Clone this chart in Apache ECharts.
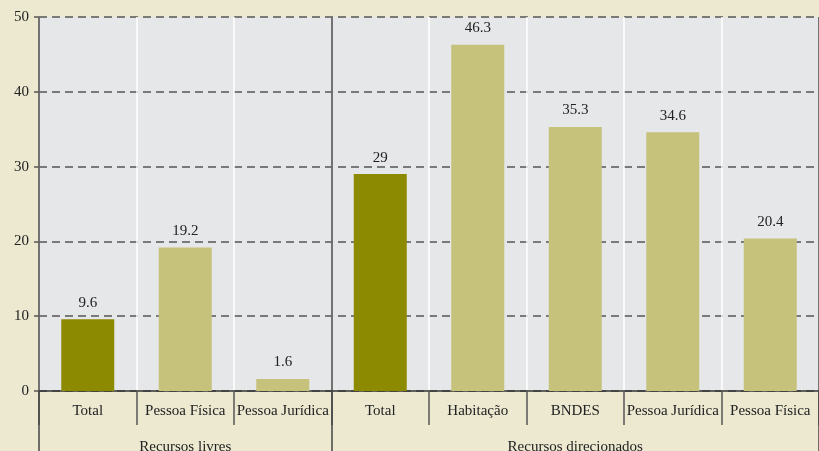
<!DOCTYPE html>
<html>
<head>
<meta charset="utf-8">
<script src="https://cdn.jsdelivr.net/npm/echarts@6/dist/echarts.min.js"></script>
<style>
  html, body { margin: 0; padding: 0; background: #ece9d0; }
  #chart { width: 819px; height: 451px; }
</style>
</head>
<body>
<div id="chart"></div>
<script>
var categories = ['Total', 'Pessoa Física', 'Pessoa Jurídica', 'Total', 'Habitação', 'BNDES', 'Pessoa Jurídica', 'Pessoa Física'];
var values = [9.6, 19.2, 1.6, 29, 46.3, 35.3, 34.6, 20.4];
var groupNames = ['Recursos livres', 'Recursos direcionados'];
var groupSizes = [3, 5];
var yTicks = [0, 10, 20, 30, 40, 50];

var serif = '"Liberation Serif", "DejaVu Serif", serif';

// group label sits on the middle category of each group, divider at each group start
var groupLabels = [];
var groupStarts = [];
var pos = 0;
for (var g = 0; g < groupNames.length; g++) {
    groupStarts.push(pos);
    for (var k = 0; k < groupSizes[g]; k++) {
        groupLabels.push(k === Math.floor(groupSizes[g] / 2) ? groupNames[g] : '');
    }
    pos += groupSizes[g];
}

var barData = values.map(function (v, i) {
    return {
        value: v,
        itemStyle: { color: categories[i] === 'Total' ? '#8c8a00' : '#c6c27c' }
    };
});

var myChart = echarts.init(document.getElementById('chart'));
var option = {
    backgroundColor: '#ece9d0',
    animation: false,
    grid: {
        left: 39,
        right: 0,
        top: 17,
        bottom: 60,
        outerBoundsMode: 'none',
        containLabel: false,
        show: true,
        backgroundColor: '#e6e7e9',
        borderWidth: 0
    },
    xAxis: [
        {
            type: 'category',
            data: categories,
            position: 'bottom',
            axisLine: { show: true, lineStyle: { color: '#333', width: 1.5 } },
            axisTick: { show: true, length: 34, lineStyle: { color: '#555', width: 1.5 } },
            axisLabel: { color: '#222', fontFamily: serif, fontSize: 15, margin: 13, interval: 0 },
            splitLine: { show: true, lineStyle: { color: '#ffffff', width: 1.5 } }
        },
        {
            type: 'category',
            data: groupLabels,
            position: 'bottom',
            axisLine: { show: false },
            axisTick: {
                show: true,
                length: 62,
                interval: function (i) { return groupStarts.indexOf(i) >= 0; },
                lineStyle: { color: '#444', width: 1.5 }
            },
            axisLabel: {
                color: '#222', fontFamily: serif, fontSize: 15, margin: 49,
                interval: 0
            },
            splitLine: {
                show: true,
                interval: function (i) { return groupStarts.indexOf(i) >= 0; },
                lineStyle: { color: '#444', width: 1.5 }
            }
        }
    ],
    yAxis: {
        type: 'value',
        min: yTicks[0],
        max: yTicks[yTicks.length - 1],
        interval: 10,
        axisLine: { show: false },
        axisTick: { show: true, length: 5, lineStyle: { color: '#555', width: 1.5 } },
        axisLabel: { color: '#222', fontFamily: serif, fontSize: 15, margin: 10 },
        splitLine: { show: true, lineStyle: { color: '#555', width: 1.5, type: [8, 5] } }
    },
    series: [
        {
            type: 'bar',
            xAxisIndex: 0,
            data: barData,
            barWidth: 53,
            z: 3,
            label: {
                show: true,
                position: 'top',
                distance: 9,
                color: '#222',
                fontFamily: serif,
                fontSize: 15
            }
        }
    ]
};
myChart.setOption(option);
</script>
</body>
</html>
